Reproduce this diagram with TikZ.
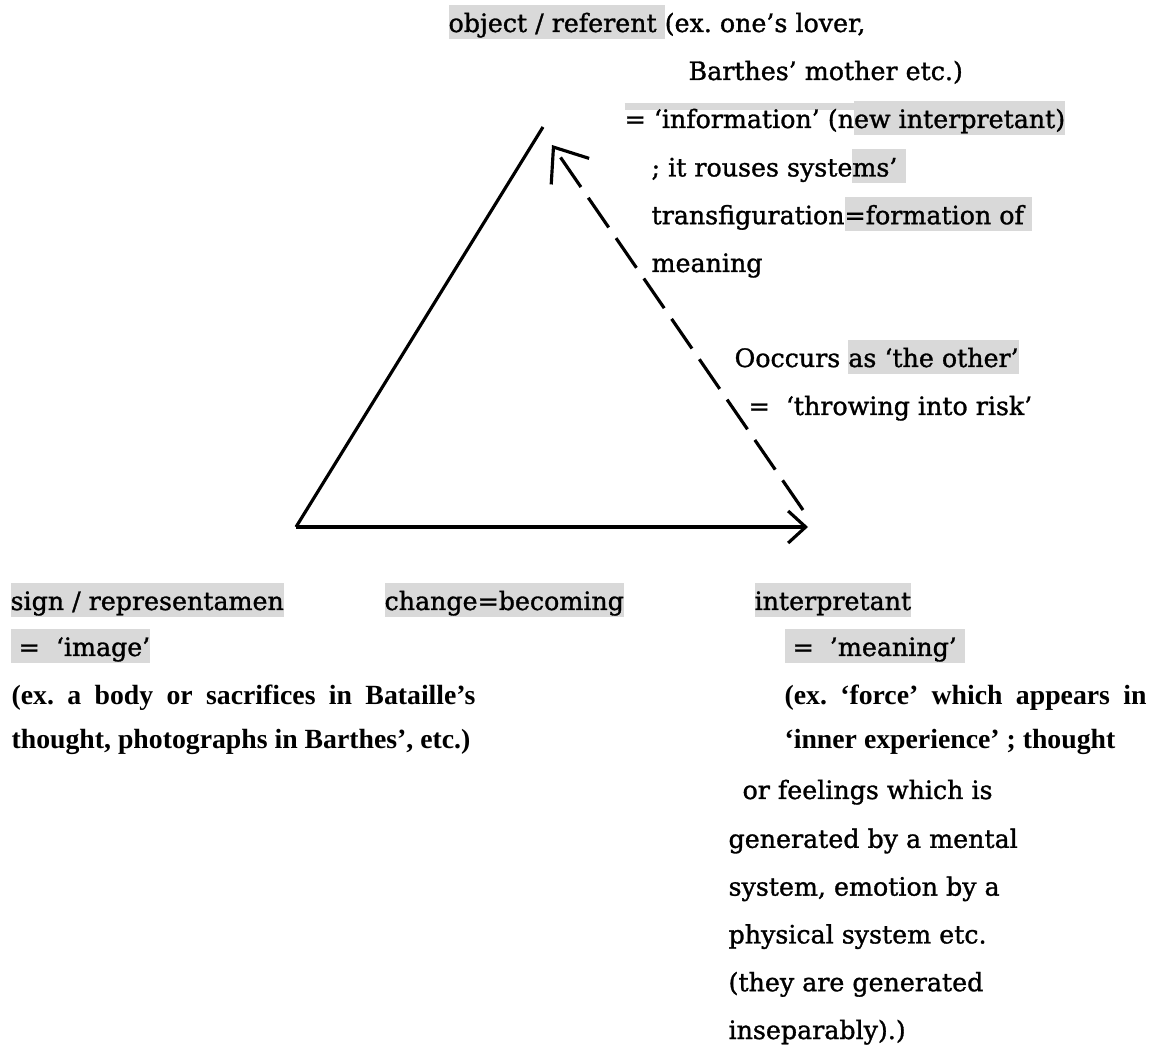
\documentclass[tikz,border=0pt]{standalone}
\usepackage{fontspec}
\setmainfont{DejaVu Serif}[FakeBold=1.2]
\newfontfamily\exfont{Liberation Serif}
\usetikzlibrary{arrows.meta}
\definecolor{hlgray}{gray}{0.85}
\newcommand{\hl}[1]{{\setlength{\fboxsep}{0pt}\colorbox{hlgray}{\rule[-0.14cm]{0pt}{0.68cm}#1}}}
\newcommand{\hltop}[1]{\setbox0=\hbox{#1}\rlap{\textcolor{hlgray}{\rule[0.36cm]{\wd0}{0.14cm}}}\box0}
\frenchspacing

\begin{document}
\begin{tikzpicture}[x=0.02cm,y=-0.02cm,line width=1.8pt,
	txt/.style={anchor=base west,inner sep=0pt,align=left,font=\fontsize{14.4}{27.2}\selectfont},
	ex/.style={txt,font=\exfont\bfseries\fontsize{15.8}{25.5}\selectfont}]

	\useasboundingbox (0,0) rectangle (1154,1050);

	\coordinate (S) at (296,527);
	\coordinate (O) at (543,127);
	\coordinate (I) at (808,527);
	\coordinate (Db) at (803,510);
	\coordinate (Dt) at (552,145);

	\draw (S) -- (O);
	\draw[-{Straight Barb[length=0.35cm,width=0.64cm]}] (S) -- (I);
	\draw[dash pattern=on 0.72cm off 0.26cm,-{Straight Barb[length=0.59cm,width=0.92cm]}] (Db) -- (Dt);

	\node[txt] (OA) at (447,32) {\hl{object / referent }(ex. one’s lover,};
	\node[txt] (OB) at (687,80) {Barthes’ mother etc.)};
	\node[txt] (OC) at (623,128) {\hltop{= ‘information’ (n}\hl{ew interpretant)}};
	\node[txt] (OD) at (650,272) {; it rouses syste\hl{ms’ }\\transfiguration\hl{=formation of }\\meaning};
	\node[txt] (OT) at (733,367) {Ooccurs \hl{as ‘the other’}};
	\node[txt] (OR) at (747,415) {=\ \ ‘throwing into risk’};

	\node[txt] (SA) at (9,610) {\hl{sign / representamen}};
	\node[txt] (SB) at (9,656) {\hl{\ =\ \ ‘image’}};
	\node[ex] (SC) at (10,749) {\makebox[9.28cm][s]{(ex. a body or sacrifices in Bataille’s}\\thought, photographs in Barthes’, etc.)};

	\node[txt] (CH) at (383,610) {\hl{change=becoming}};

	\node[txt] (IA) at (753,610) {\hl{interpretant}};
	\node[txt] (IB) at (783,656) {\hl{\ =\ \ ’meaning’ }};
	\node[ex] (IC) at (783,749) {\makebox[7.24cm][s]{(ex. ‘force’ which appears in}\\‘inner experience’ ; thought};
	\node[txt] (ID) at (741,799) {or feelings which is};
	\node[txt] (IE) at (727,1039) {generated by a mental\\system, emotion by a\\physical system etc.\\(they are generated\\inseparably).)};
\end{tikzpicture}
\end{document}
